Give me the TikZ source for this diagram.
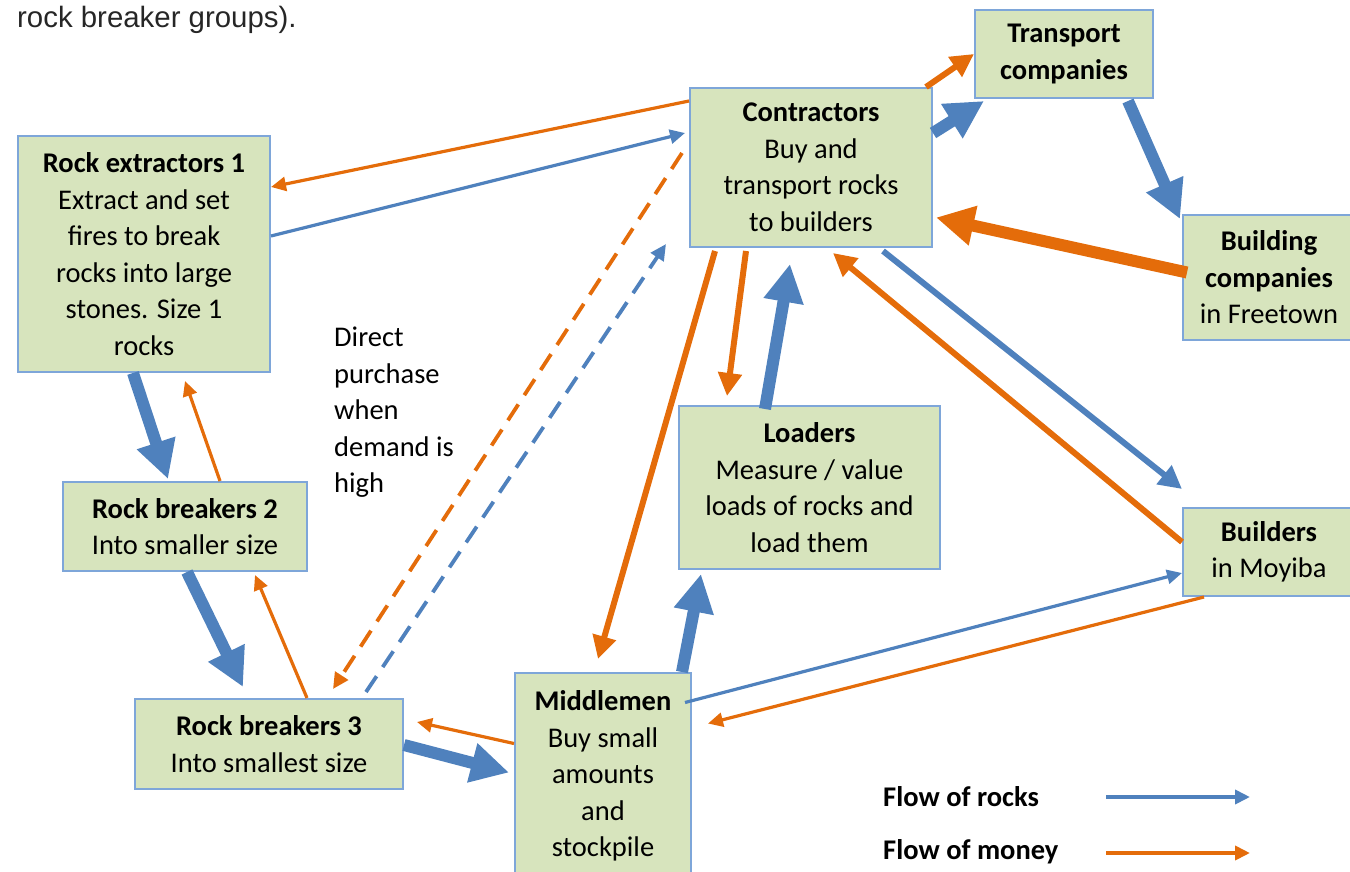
\documentclass[tikz,border=0pt]{standalone}
\usepackage{fontspec}
\setmainfont{Carlito}
\newfontfamily\pagefont{Liberation Sans}
\usetikzlibrary{arrows.meta,positioning}

\definecolor{rockblue}{HTML}{4F81BD}
\definecolor{moneyorange}{HTML}{E46C0A}
\definecolor{boxfill}{HTML}{D7E4BD}
\definecolor{boxline}{HTML}{7EA6D9}

\tikzset{
    actor/.style={draw=boxline, line width=2pt, fill=boxfill, align=center, inner sep=0pt,
        font=\fontsize{28.5}{36.5}\selectfont},
    rocks/.style={draw=rockblue},
    money/.style={draw=moneyorange},
    thin-flow/.style={line width=3.2pt, -{Triangle[length=15pt,width=14pt]}},
    mid-flow/.style={line width=6pt, -{Triangle[length=23pt,width=23pt]}},
    thick-flow/.style={line width=12pt, -{Triangle[length=38pt,width=38pt]}},
    dashed-flow/.style={line width=3.8pt, dash pattern=on 19pt off 11pt, -{Triangle[length=16pt,width=15pt]}},
    key/.style={anchor=west, inner sep=0pt, font=\bfseries\fontsize{28.5}{36.5}\selectfont}
}

\begin{document}
\begin{tikzpicture}[x=1pt, y=-1pt]
    \useasboundingbox (0,0) rectangle (1350,872);
    \node[anchor=base west, inner sep=0pt, text=black!85, font=\pagefont\fontsize{29.4}{34}\selectfont]
        (page-text) at (17,28) {rock breaker groups).};

    \node[actor, minimum width=252pt, minimum height=236pt] (rock-extractors) at (144,254)
        {\textbf{Rock extractors 1}\\Extract and set\\fires to break\\rocks into large\\stones. Size 1\\rocks};
    \node[actor, minimum width=242pt, minimum height=159pt] (contractors) at (811,167.5)
        {\textbf{Contractors}\\Buy and\\transport rocks\\to builders};
    \node[actor, minimum width=178pt, minimum height=88pt] (transport) at (1064,54)
        {\textbf{Transport}\\\textbf{companies}};
    \node[actor, minimum width=172pt, minimum height=125pt] (building-companies) at (1269,277.5)
        {\textbf{Building}\\\textbf{companies}\\in Freetown};
    \node[actor, minimum width=172pt, minimum height=88pt] (builders) at (1269,552)
        {\textbf{Builders}\\in Moyiba};
    \node[actor, minimum width=261pt, minimum height=163pt] (loaders) at (809.5,487.5)
        {\textbf{Loaders}\\Measure / value\\loads of rocks and\\load them};
    \node[actor, minimum width=244pt, minimum height=89pt] (rock-breakers-2) at (185,526.5)
        {\textbf{Rock breakers 2}\\Into smaller size};
    \node[actor, minimum width=268pt, minimum height=90pt] (rock-breakers-3) at (269,744)
        {\textbf{Rock breakers 3}\\Into smallest size};
    \node[actor, minimum width=176pt, minimum height=206pt] (middlemen) at (603,776)
        {\textbf{Middlemen}\\Buy small\\amounts\\and\\stockpile};

    \node[anchor=north west, align=left, inner sep=0pt, font=\fontsize{28.5}{36.5}\selectfont]
        (purchase-note) at (334,327) {Direct\\purchase\\when\\demand is\\high};

    \draw[money, thin-flow] ([yshift=66.5pt]contractors.west) -- ([yshift=67pt]rock-extractors.east);
    \draw[rocks, thin-flow] ([yshift=18pt]rock-extractors.east) -- ([xshift=-4pt,yshift=34.5pt]contractors.west);
    \draw[money, thin-flow] ([xshift=35pt]rock-breakers-2.north) -- ([xshift=41pt,yshift=-8pt]rock-extractors.south);
    \draw[rocks, thick-flow] ([xshift=-11pt]rock-extractors.south) -- ([xshift=-17pt,yshift=2pt]rock-breakers-2.north);
    \draw[rocks, thick-flow] ([xshift=2pt]rock-breakers-2.south) -- ([xshift=-26pt,yshift=11pt]rock-breakers-3.north);
    \draw[money, thin-flow] ([xshift=38pt]rock-breakers-3.north) -- ([xshift=70pt,yshift=-3pt]rock-breakers-2.south);
    \draw[money, dashed-flow] ([xshift=-7pt,yshift=14.5pt]contractors.west)
        -- ([xshift=64pt,yshift=9pt]rock-breakers-3.north);
    \draw[rocks, dashed-flow] ([xshift=97pt,yshift=6pt]rock-breakers-3.north)
        -- ([xshift=-23pt,yshift=4pt]contractors.south west);
    \draw[money, thin-flow] ([yshift=32.5pt]middlemen.west) -- ([xshift=13pt,yshift=22pt]rock-breakers-3.east);
    \draw[rocks, thick-flow] ([yshift=-1pt]rock-breakers-3.east) -- ([xshift=-5pt,yshift=3.5pt]middlemen.west);
    \draw[money, mid-flow] ([xshift=-96pt,yshift=-3pt]contractors.south) -- ([xshift=-5pt,yshift=13pt]middlemen.north);
    \draw[money, mid-flow] ([xshift=-65pt,yshift=-3pt]contractors.south) -- ([xshift=-82.5pt,yshift=9pt]loaders.north);
    \draw[rocks, thick-flow] ([xshift=-44.5pt,yshift=-4pt]loaders.north) -- ([xshift=-21pt,yshift=-16pt]contractors.south);
    \draw[rocks, thick-flow] ([xshift=79pt]middlemen.north) -- ([xshift=-108.5pt,yshift=-4pt]loaders.south);
    \draw[rocks, thin-flow] ([xshift=-7pt,yshift=73.5pt]middlemen.east) -- ([yshift=-21pt]builders.west);
    \draw[money, thin-flow] ([xshift=22pt]builders.south west) -- ([xshift=16pt,yshift=52.5pt]middlemen.east);
    \draw[rocks, mid-flow] ([xshift=-50pt,yshift=-3pt]contractors.south east) -- ([yshift=18pt]builders.north west);
    \draw[money, mid-flow] ([yshift=10pt]builders.west) -- ([xshift=22pt,yshift=-5pt]contractors.south);
    \draw[money, thick-flow] ([xshift=5pt,yshift=5pt]building-companies.west) -- ([xshift=3pt,yshift=-50pt]contractors.east);
    \draw[rocks, thick-flow] ([xshift=64pt,yshift=-2pt]transport.south) -- ([xshift=-2pt,yshift=-5pt]building-companies.north west);
    \draw[rocks, thick-flow] ([yshift=34.5pt]contractors.east) -- ([xshift=10pt,yshift=-2pt]transport.south west);
    \draw[money, mid-flow] ([xshift=-7pt]contractors.north east) -- (transport.west);

    \node[key] (rocks-key) at (883,797) {Flow of rocks};
    \node[key] (money-key) at (883,852) {Flow of money};
    \coordinate (rocks-key-start) at (1106,797);
    \coordinate (rocks-key-end) at (1250,797);
    \coordinate (money-key-start) at (1106,853);
    \coordinate (money-key-end) at (1250,853);
    \draw[rocks, thin-flow, line width=4pt] (rocks-key-start) -- (rocks-key-end);
    \draw[money, thin-flow, line width=4pt] (money-key-start) -- (money-key-end);
\end{tikzpicture}
\end{document}
